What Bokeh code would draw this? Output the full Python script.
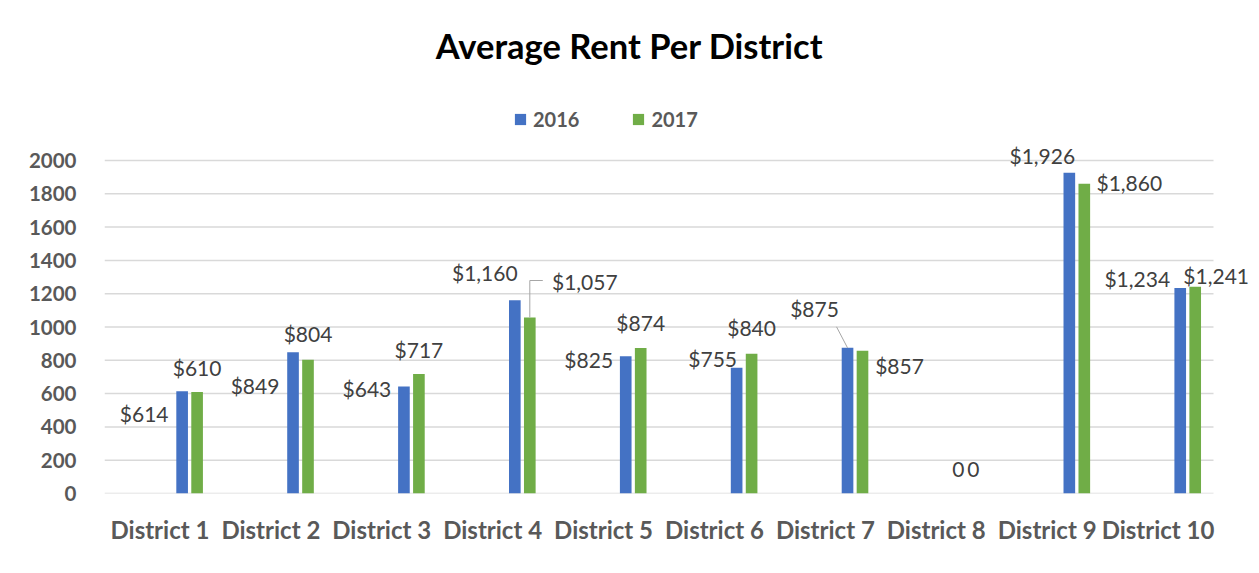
from bokeh.plotting import figure
from bokeh.models import Range1d, FixedTicker, Legend, LegendItem, Label, ColumnDataSource
from bokeh.embed import file_html
from bokeh.resources import INLINE
from bokeh.core.properties import value

# ---- data ----
districts = ["District 1", "District 2", "District 3", "District 4", "District 5",
             "District 6", "District 7", "District 8", "District 9", "District 10"]
rent_2016 = [614, 849, 643, 1160, 825, 755, 875, 0, 1926, 1234]
rent_2017 = [610, 804, 717, 1057, 874, 840, 857, 0, 1860, 1241]
y_ticks = [0, 200, 400, 600, 800, 1000, 1200, 1400, 1600, 1800, 2000]
series_names = ["2016", "2017"]

# ---- layout constants ----
W, H = 1251, 565
LEFT, BOTTOM, RIGHT, TOP = 104, 72, 1, 0
frame_w = W - LEFT - RIGHT
frame_h = H - TOP - BOTTOM
PX_X = 110.9      # px per category
PX_Y = 0.1665     # px per unit value
x_end = frame_w / PX_X
y_end = frame_h / PX_Y

BLUE = "#4472C4"
GREEN = "#70AD47"
FONT = "Lato"

def fmt(v):
    return "${:,}".format(v) if v else "0"

# label offsets in screen px (dx, dy; dy positive = down)
off_2016 = [(-38, 22), (-38, 33), (-37, 2), (-30, -28), (-37, 3), (-24, -9),
            (-33, -39), (0, -24), (-27, -17), (-43, -10)]
off_2017 = [(0, -24), (0, -26), (0, -25), (55, -36), (0, -25), (0, -26),
            (37, 15), (0, -24), (45, -1), (21, -11)]

BAR_W = 0.105
OFF_B = 0.70
OFF_G = 0.835

idx = list(range(len(districts)))
src_b = ColumnDataSource(dict(
    x=[i + OFF_B for i in idx], top=rent_2016,
    lab=[fmt(v) for v in rent_2016],
    dx=[o[0] for o in off_2016], dy=[o[1] for o in off_2016]))
src_g = ColumnDataSource(dict(
    x=[i + OFF_G for i in idx], top=rent_2017,
    lab=[fmt(v) for v in rent_2017],
    dx=[o[0] for o in off_2017], dy=[o[1] for o in off_2017]))

p = figure(width=W, height=H, output_backend="svg", toolbar_location=None,
           x_range=Range1d(0, x_end), y_range=Range1d(0, y_end),
           min_border_left=LEFT, min_border_right=RIGHT,
           min_border_top=TOP, min_border_bottom=BOTTOM)
p.outline_line_color = None
p.xgrid.visible = False
p.ygrid.visible = False

# gridlines limited to category span
p.segment(x0=[0] * len(y_ticks), x1=[len(districts)] * len(y_ticks),
          y0=y_ticks, y1=y_ticks, line_color="#d9d9d9", line_width=1.5)

rb = p.vbar(x="x", top="top", width=BAR_W, source=src_b, fill_color=BLUE, line_color=None)
rg = p.vbar(x="x", top="top", width=BAR_W, source=src_g, fill_color=GREEN, line_color=None)

# leader lines (district 4 2017, district 7 2016)
i4, i7 = 3, 6
lx4 = i4 + OFF_G
ly4 = rent_2017[i4]
lx7 = i7 + OFF_B
ly7 = rent_2016[i7]
p.multi_line(xs=[[lx4, lx4, lx4 + 13 / PX_X], [lx7, lx7 - 11 / PX_X]],
             ys=[[ly4, ly4 + 37 / PX_Y, ly4 + 37 / PX_Y], [ly7, ly7 + 21 / PX_Y]],
             line_color="#a6a6a6", line_width=1)

for s in (src_b, src_g):
    p.text(x="x", y="top", text="lab", source=s, x_offset="dx", y_offset="dy",
           text_align="center", text_baseline="middle",
           text_font=value(FONT), text_font_size="21px", text_color="#404040")

# axes
p.yaxis.ticker = FixedTicker(ticks=y_ticks)
p.yaxis.axis_line_color = None
p.yaxis.major_tick_line_color = None
p.yaxis.minor_tick_line_color = None
p.yaxis.major_label_standoff = 22
p.yaxis.major_label_text_font = FONT
p.yaxis.major_label_text_font_style = "bold"
p.yaxis.major_label_text_font_size = "20.5px"
p.yaxis.major_label_text_color = "#595959"

p.xaxis.ticker = FixedTicker(ticks=[i + 0.5 for i in idx])
p.xaxis.major_label_overrides = {i + 0.5: d for i, d in zip(idx, districts)}
p.xaxis.axis_line_color = None
p.xaxis.major_tick_line_color = None
p.xaxis.minor_tick_line_color = None
p.xaxis.major_label_standoff = 15
p.xaxis.major_label_text_font = FONT
p.xaxis.major_label_text_font_style = "bold"
p.xaxis.major_label_text_font_size = "24px"
p.xaxis.major_label_text_color = "#595959"

# title
p.add_layout(Label(x=(629 - 104) / PX_X, y=(493 - 45) / PX_Y, text="Average Rent Per District",
                   text_align="center", text_baseline="middle", text_font=FONT,
                   text_font_style="bold", text_font_size="34.5px", text_color="#000000"))

# legend
legend = Legend(items=[LegendItem(label=series_names[0], renderers=[rb]),
                       LegendItem(label=series_names[1], renderers=[rg])],
                orientation="horizontal", location=(409, 362),
                glyph_width=14, glyph_height=14, label_standoff=6, spacing=52,
                padding=0, margin=0, border_line_color=None, background_fill_alpha=0,
                label_text_font=FONT, label_text_font_style="bold",
                label_text_font_size="20px", label_text_color="#595959")
p.add_layout(legend)

open("out.html", "w").write(file_html(p, INLINE))
